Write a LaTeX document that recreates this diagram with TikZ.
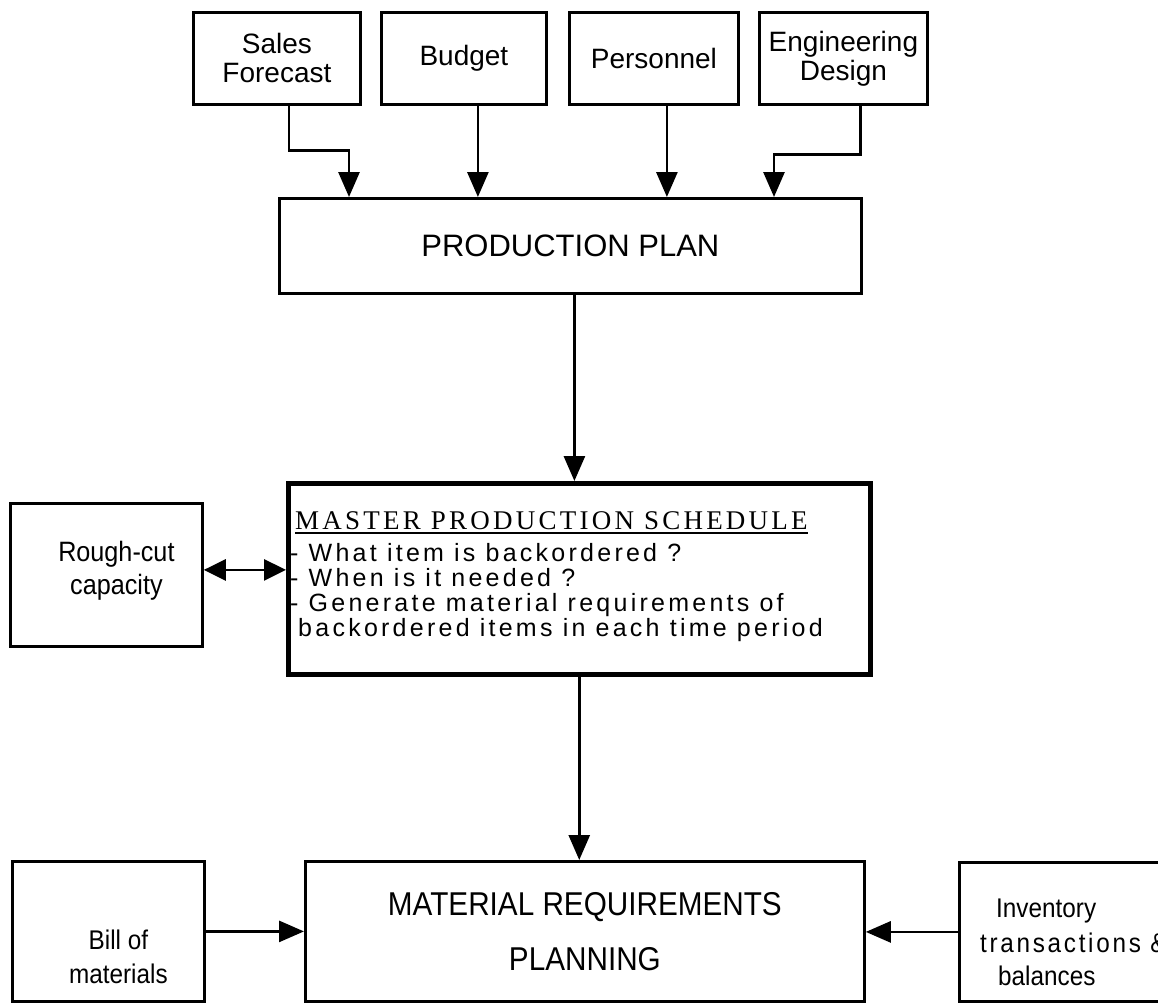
\documentclass[tikz,border=0pt]{standalone}
\usepackage{fontspec}
\setmainfont{Liberation Sans}
\newfontfamily\narrowsans{Liberation Sans}[FakeStretch=0.9]
\newfontfamily\narrowspaced{Liberation Sans}[FakeStretch=0.9, LetterSpace=10]
\newfontfamily\spacedsans{Liberation Sans}[LetterSpace=13]
\newfontfamily\spacedserif{Liberation Serif}[LetterSpace=12]
\usetikzlibrary{arrows.meta}

\tikzset{
  frame/.style={draw, line width=2.8pt, anchor=north west, inner sep=0pt, align=center},
  toplabel/.style={font=\fontsize{28}{29}\selectfont},
  flow/.style={line width=2.8pt, -{Triangle[width=21pt,length=25pt]}},
  twoway/.style={line width=2.8pt, {Triangle[width=21pt,length=22pt]}-{Triangle[width=21pt,length=22pt]}},
  listline/.style={anchor=base west, inner sep=0pt, font=\spacedsans\fontsize{25}{27}\selectfont},
  sidetext/.style={anchor=base west, inner sep=0pt},
}

\begin{document}
\begin{tikzpicture}[x=1pt, y=-1pt]
\useasboundingbox (0,0) rectangle (1158,1002);
\clip (0,0) rectangle (1158,1002);

% input boxes along the top
\node[frame, toplabel, minimum width=167pt, minimum height=92pt] (sales) at (192,11) {Sales\\Forecast};
\node[frame, toplabel, minimum width=165pt, minimum height=92pt] (budget) at (380,11) {Budget};
\node[frame, toplabel, minimum width=169pt, minimum height=92pt] (personnel) at (568,11) {Personnel};
\node[frame, toplabel, minimum width=168pt, minimum height=92pt] (engineering) at (758,11) {Engineering\\Design};

% production plan
\node[frame, minimum width=582pt, minimum height=95pt, font=\fontsize{31}{33}\selectfont] (plan) at (278,197) {PRODUCTION PLAN};

% master production schedule
\node[frame, line width=4.5pt, minimum width=582pt, minimum height=191pt] (mps) at (286,481) {};
\node[anchor=base west, inner sep=0pt, font=\spacedserif\fontsize{27}{29}\selectfont] (mpshead) at (295,529) {MASTER PRODUCTION SCHEDULE};
\draw[line width=1.6pt] ([yshift=-4pt]mpshead.base west) -- ([yshift=-4pt]mpshead.base east);
\node[listline] (item1) at (290,561) {- What item is backordered ?};
\node[listline] (item2) at (290,586) {- When is it needed ?};
\node[listline] (item3) at (290,611) {- Generate material requirements of};
\node[listline] (item4) at (298,636) {backordered items in each time period};

% rough-cut capacity
\node[frame, minimum width=192pt, minimum height=143pt] (rough) at (9,502) {};
\node[align=center, font=\narrowsans\fontsize{28}{33}\selectfont] (roughtext) at ([xshift=10pt, yshift=4pt]rough.center) {Rough-cut\\capacity};

% bottom row
\node[frame, minimum width=192pt, minimum height=140pt] (bom) at (11,860) {};
\node[align=center, font=\narrowsans\fontsize{27}{34}\selectfont] (bomtext) at ([xshift=10pt, yshift=-25pt]bom.center) {Bill of\\materials};
\node[frame, minimum width=559pt, minimum height=140pt, font=\narrowsans\fontsize{33}{55}\selectfont] (mrp) at (304,860) {MATERIAL REQUIREMENTS\\PLANNING};
\node[frame, minimum width=240pt, minimum height=139pt] (inventory) at (958,861) {};
\node[sidetext, font=\narrowsans\fontsize{27}{29}\selectfont] (invtext1) at (996,917) {Inventory};
\node[sidetext, font=\narrowspaced\fontsize{27}{29}\selectfont] (invtext2) at (980,952) {transactions \&};
\node[sidetext, font=\narrowsans\fontsize{27}{29}\selectfont] (invtext3) at (998,985) {balances};

% connectors into the production plan
\draw[flow] ([xshift=12pt]sales.south) -- ++(0,45) -| ([xshift=71pt]plan.north west);
\draw[flow] ([xshift=14pt]budget.south) -- ([xshift=14pt]budget.south |- plan.north);
\draw[flow] ([xshift=13pt]personnel.south) -- ([xshift=13pt]personnel.south |- plan.north);
\draw[flow] ([xshift=17pt]engineering.south) -- ++(0,49) -| ([xshift=496pt]plan.north west);

% main flow
\draw[flow] ([xshift=4pt]plan.south) -- ([xshift=4pt]plan.south |- mps.north);
\draw[flow] (mps.south) -- (mps.south |- mrp.north);
\draw[twoway] ([yshift=5pt]rough.east) -- ([yshift=5pt]rough.east -| mps.west);
\draw[flow] (bom.east) -- (bom.east -| mrp.west);
\draw[flow] (inventory.west) -- (inventory.west -| mrp.east);
\end{tikzpicture}
\end{document}
